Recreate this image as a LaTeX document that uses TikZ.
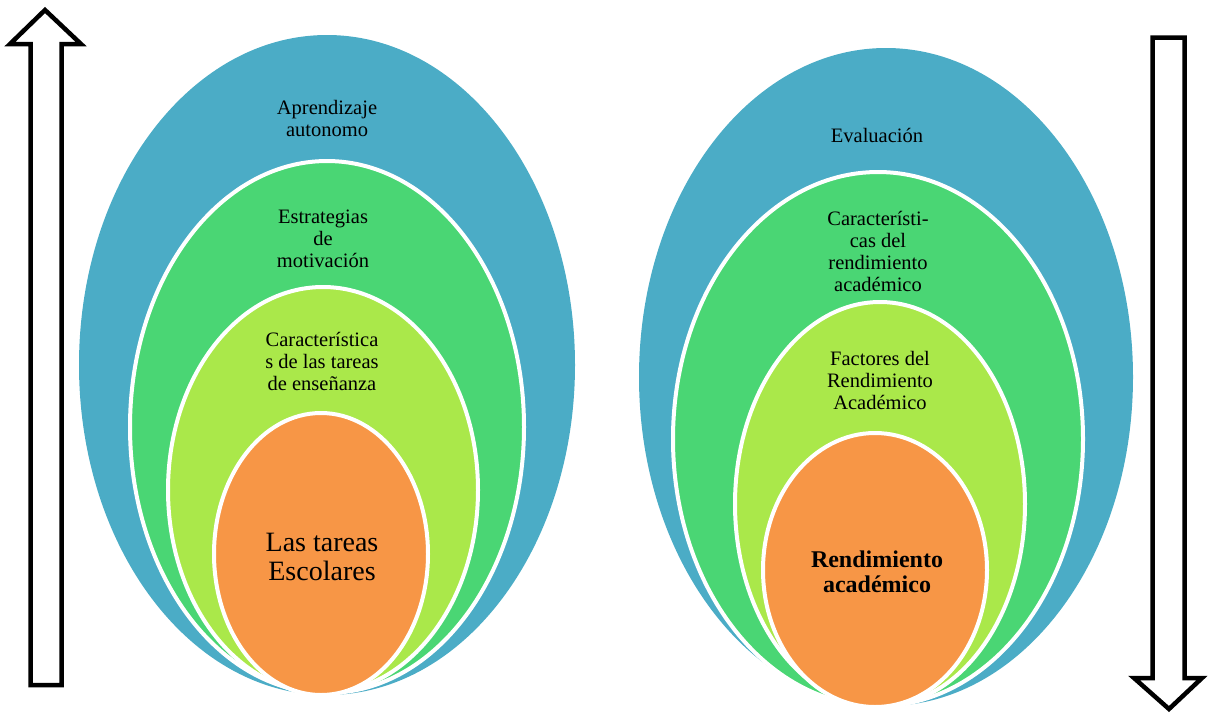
\documentclass[tikz,border=0pt]{standalone}
\usepackage{fontspec}
\setmainfont{Liberation Serif}
\usetikzlibrary{positioning,shapes.geometric}
\definecolor{capaazul}{RGB}{75,172,198}
\definecolor{capaverde}{RGB}{74,214,116}
\definecolor{capalima}{RGB}{170,232,74}
\definecolor{capanaranja}{RGB}{247,150,70}
\tikzset{
	capa/.style={ellipse, inner sep=0pt, draw=white, line width=4pt},
	rotulo/.style={align=center, font=\fontsize{20.5}{22}\selectfont, text=black},
	flecha/.style={draw=black, line width=4.5pt, fill=white, line join=miter},
}

\begin{document}
\begin{tikzpicture}[x=1pt,y=-1pt]
		\useasboundingbox (0,0) rectangle (1216,713);
		
		% grupo izquierdo
		\node(A1) [capa, draw=none, fill=capaazul, minimum width=496pt, minimum height=660pt] at (327,365) {}; 
		\node(A2) [capa, fill=capaverde, minimum width=394pt, minimum height=532pt] at (327,427) {}; 
		\node(A3) [capa, fill=capalima, minimum width=310pt, minimum height=406pt] at (323,490) {}; 
		\node(A4) [capa, fill=capanaranja, minimum width=214pt, minimum height=282pt] at (321,554) {}; 
		
		\node(tA1) [rotulo] at (327,118) {Aprendizaje\\autonomo}; 
		\node(tA2) [rotulo] at (323,239) {Estrategias\\de\\motivación}; 
		\node(tA3) [rotulo] at (322,361) {Característica\\s de las tareas\\de enseñanza}; 
		\node(tA4) [rotulo, font=\fontsize{28}{29}\selectfont] at (322,557) {Las tareas\\Escolares}; 
		
		% grupo derecho
		\node(B1) [capa, draw=none, fill=capaazul, minimum width=494pt, minimum height=658pt] at (886,377) {}; 
		\node(B2) [capa, fill=capaverde, minimum width=410pt, minimum height=534pt] at (878,439) {}; 
		\node(B3) [capa, fill=capalima, minimum width=290pt, minimum height=404pt] at (880,504) {}; 
		\node(B4) [capa, fill=capanaranja, minimum width=224pt, minimum height=274pt] at (875,570) {}; 
		
		\node(tB1) [rotulo] at (877,135) {Evaluación}; 
		\node(tB2) [rotulo] at (878,251) {Característi-\\cas del\\rendimiento\\académico}; 
		\node(tB3) [rotulo] at (880,380) {Factores del\\Rendimiento\\Académico}; 
		\node(tB4) [rotulo, font=\fontsize{24}{25}\selectfont\bfseries] at (877,572) {Rendimiento\\académico}; 
		
		% flechas
		\draw[flecha] (30.5,685) -- (30.5,44) -- (10,44) -- (45,10) -- (81,44) -- (61.5,44) -- (61.5,685) -- cycle; 
		\draw[flecha] (1152.5,37.5) -- (1152.5,678) -- (1134,678) -- (1169,709) -- (1202,678) -- (1184.5,678) -- (1184.5,37.5) -- cycle; 
	\end{tikzpicture}
\end{document}
